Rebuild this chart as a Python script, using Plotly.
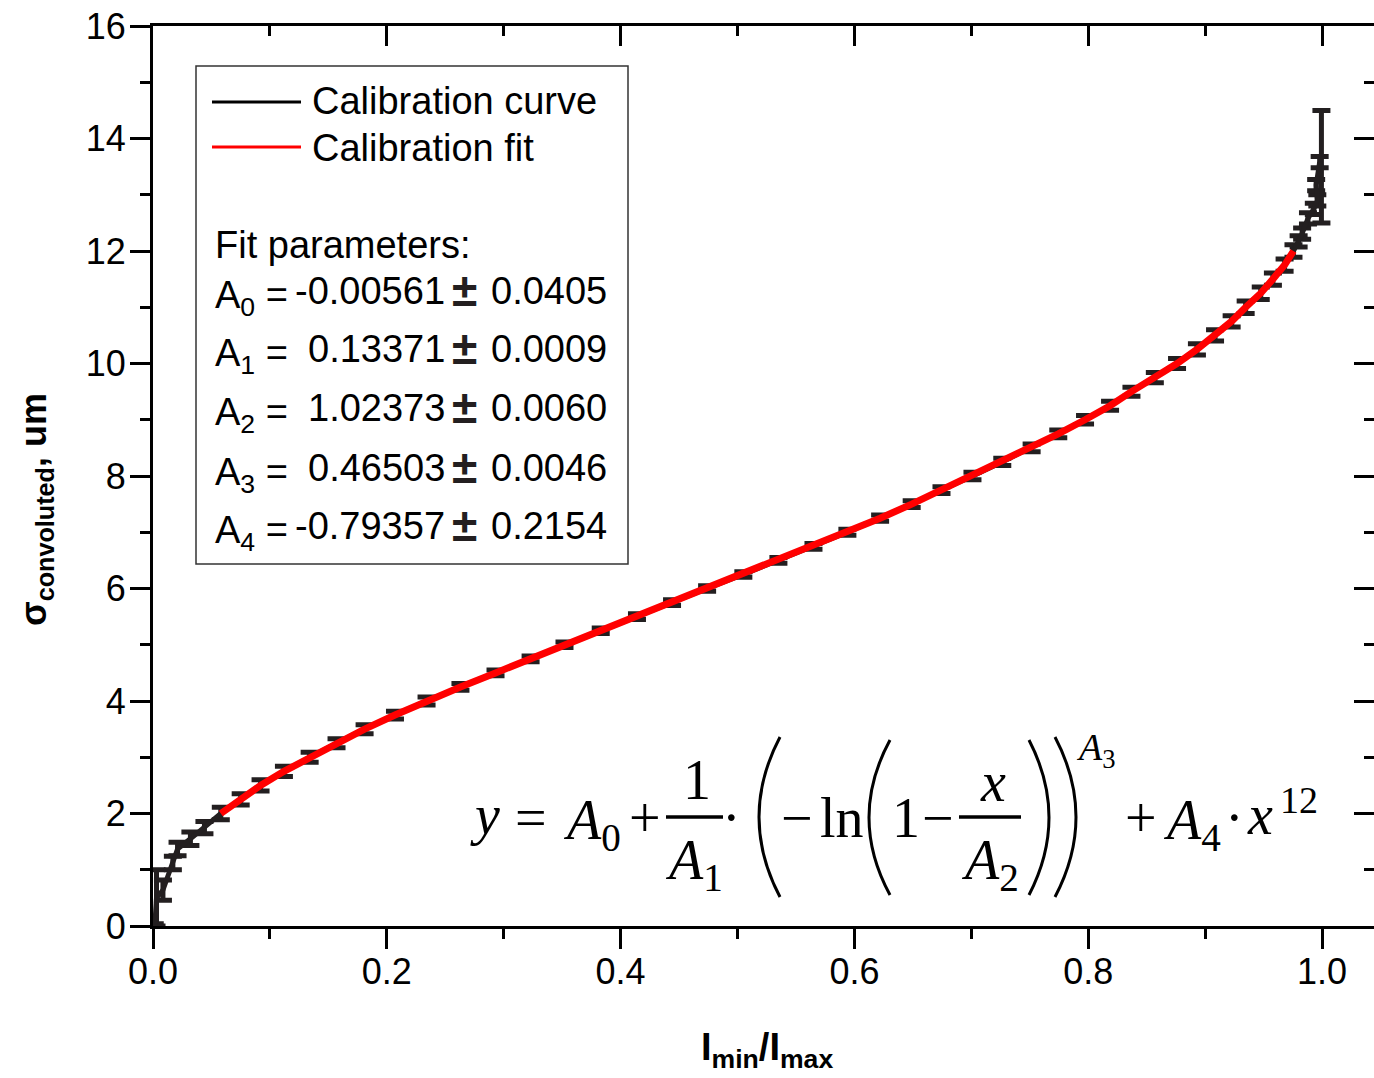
import plotly.graph_objects as go

# ---------------- data ----------------
curve_x = [0.0015, 0.003, 0.0085, 0.017, 0.021, 0.032, 0.044, 0.058,
           0.075, 0.092, 0.112, 0.134, 0.157, 0.181, 0.207, 0.234,
           0.263, 0.293, 0.323, 0.352, 0.383, 0.414, 0.444, 0.474,
           0.505, 0.535, 0.565, 0.594, 0.622, 0.649, 0.6745, 0.701,
           0.7265, 0.7516, 0.7744, 0.7973, 0.8187, 0.837, 0.857, 0.876,
           0.893, 0.9085, 0.9227, 0.9347, 0.9476, 0.958, 0.968, 0.9756,
           0.980, 0.983, 0.988, 0.993, 0.996, 0.995, 0.998, 0.9995]
curve_y = [0.0, 0.5, 0.64, 1.12, 1.37, 1.55, 1.75, 2.0,
           2.25, 2.5, 2.75, 3.0, 3.25, 3.5, 3.75, 4.0,
           4.25, 4.5, 4.75, 5.0, 5.25, 5.5, 5.75, 6.0,
           6.25, 6.5, 6.75, 7.0, 7.25, 7.5, 7.75, 8.0,
           8.25, 8.5, 8.75, 9.0, 9.25, 9.5, 9.75, 10.0,
           10.25, 10.5, 10.75, 11.0, 11.25, 11.5, 11.75, 12.0,
           12.17, 12.31, 12.58, 12.75, 12.9, 13.17, 13.58, 13.5]
curve_err = [0.04, 0.5, 0.18, 0.12, 0.12, 0.12, 0.11, 0.11,
             0.1, 0.1, 0.09, 0.09, 0.08, 0.08, 0.07, 0.07,
             0.06, 0.05, 0.05, 0.05, 0.05, 0.05, 0.05, 0.05,
             0.05, 0.05, 0.05, 0.055, 0.055, 0.06, 0.06, 0.065,
             0.065, 0.07, 0.07, 0.075, 0.08, 0.08, 0.09, 0.09,
             0.1, 0.1, 0.1, 0.11, 0.11, 0.11, 0.11, 0.11,
             0.1, 0.1, 0.1, 0.1, 0.1, 0.1, 0.1, 1.0]

fit_x = [0.058, 0.075, 0.092, 0.112, 0.134, 0.157, 0.181, 0.207, 0.234,
         0.263, 0.293, 0.323, 0.352, 0.383, 0.414, 0.444, 0.474,
         0.505, 0.535, 0.565, 0.594, 0.622, 0.649, 0.6745, 0.701,
         0.7265, 0.7516, 0.7744, 0.7973, 0.8187, 0.837, 0.857, 0.876,
         0.893, 0.9085, 0.9227, 0.9347, 0.9476, 0.958, 0.968, 0.9756]
fit_y = [2.0, 2.25, 2.5, 2.75, 3.0, 3.25, 3.5, 3.75, 4.0,
         4.25, 4.5, 4.75, 5.0, 5.25, 5.5, 5.75, 6.0,
         6.25, 6.5, 6.75, 7.0, 7.25, 7.5, 7.75, 8.0,
         8.25, 8.5, 8.75, 9.0, 9.25, 9.5, 9.75, 10.0,
         10.25, 10.5, 10.75, 11.0, 11.25, 11.5, 11.75, 12.0]

param_names = ["A<sub>0</sub> =", "A<sub>1</sub> =", "A<sub>2</sub> =", "A<sub>3</sub> =", "A<sub>4</sub> ="]
param_values = ["-0.00561", "0.13371", "1.02373", "0.46503", "-0.79357"]
param_errors = ["0.0405", "0.0009", "0.0060", "0.0046", "0.2154"]

x_tickvals = [0.0, 0.2, 0.4, 0.6, 0.8, 1.0]
x_ticktext = ["0.0", "0.2", "0.4", "0.6", "0.8", "1.0"]
y_tickvals = [0, 2, 4, 6, 8, 10, 12, 14, 16]
y_ticktext = ["0", "2", "4", "6", "8", "10", "12", "14", "16"]

# ---------------- layout helpers (pixel -> paper) ----------------
W, H = 1374, 1078
L, R, T, B = 153, 0, 26, 152
PW, PH = W - L - R, H - T - B


def px(x):
    return (x - L) / PW


def py(y):
    return (H - B - y) / PH


SANS = "Liberation Sans, Arial, sans-serif"
SERIF = "Liberation Serif, Times New Roman, serif"
BLACK = "#231f20"

fig = go.Figure()

fig.add_trace(go.Scatter(
    x=curve_x, y=curve_y, mode="lines", name="Calibration curve",
    line=dict(color=BLACK, width=5),
    error_y=dict(type="data", array=curve_err, visible=True,
                 color=BLACK, thickness=5, width=9),
    showlegend=False, cliponaxis=False,
))
fig.add_trace(go.Scatter(
    x=fit_x, y=fit_y, mode="lines", name="Calibration fit",
    line=dict(color="#ff0000", width=7), xaxis="x2", yaxis="y2",
    showlegend=False,
))

xrange = [0, PW / 1169.0]
yrange = [0, 16]

axis_common = dict(showgrid=False, zeroline=False, linecolor="black",
                   linewidth=3, tickcolor="black", tickwidth=3,
                   tickfont=dict(family=SANS, size=36, color="black"))

fig.update_layout(
    width=W, height=H,
    margin=dict(l=L, r=R, t=T, b=B, pad=0),
    paper_bgcolor="white", plot_bgcolor="white",
    font=dict(family=SANS, color="black"),
    xaxis=dict(range=xrange, tickvals=x_tickvals, ticktext=x_ticktext,
               ticks="outside", ticklen=20, showline=True,
               ticklabelstandoff=-8,
               minor=dict(dtick=0.1, ticks="outside", ticklen=10,
                          tickwidth=3, tickcolor="black"),
               **axis_common),
    yaxis=dict(range=yrange, tickvals=y_tickvals, ticktext=y_ticktext,
               ticks="outside", ticklen=20, showline=True,
               ticklabelstandoff=-3,
               minor=dict(dtick=1, ticks="outside", ticklen=10,
                          tickwidth=3, tickcolor="black"),
               **axis_common),
    xaxis2=dict(range=xrange, overlaying="x", side="top", anchor="y2",
                tickvals=x_tickvals, ticks="inside", ticklen=20,
                showticklabels=False, showline=True,
                minor=dict(dtick=0.1, ticks="inside", ticklen=10,
                           tickwidth=3, tickcolor="black"),
                **axis_common),
    yaxis2=dict(range=yrange, overlaying="y", side="right", anchor="x2",
                tickvals=y_tickvals, ticks="inside", ticklen=20,
                showticklabels=False, showline=False,
                minor=dict(dtick=1, ticks="inside", ticklen=10,
                           tickwidth=3, tickcolor="black"),
                **axis_common),
)

shapes = []
ann = []

# axis titles
ann.append(dict(x=px(767), y=py(1050), xref="paper", yref="paper",
                text="<b>I<sub>min</sub>/I<sub>max</sub></b>", showarrow=False,
                font=dict(family=SANS, size=38, color="black"),
                xanchor="center", yanchor="middle"))
ann.append(dict(x=px(36), y=py(510), xref="paper", yref="paper",
                text="<b>σ<sub>convoluted</sub>, um</b>", showarrow=False,
                textangle=-90,
                font=dict(family=SANS, size=36, color="black"),
                xanchor="center", yanchor="middle"))

# legend / parameter box
shapes.append(dict(type="rect", xref="paper", yref="paper",
                   x0=px(196), x1=px(628), y0=py(564), y1=py(66),
                   line=dict(color="#333333", width=1.5), fillcolor="white",
                   layer="above"))
shapes.append(dict(type="line", xref="paper", yref="paper",
                   x0=px(212), x1=px(301), y0=py(102), y1=py(102),
                   line=dict(color="black", width=3), layer="above"))
shapes.append(dict(type="line", xref="paper", yref="paper",
                   x0=px(212), x1=px(301), y0=py(147), y1=py(147),
                   line=dict(color="#ff0000", width=3), layer="above"))

box_font = dict(family=SANS, size=38, color="black")
ann.append(dict(x=px(310), y=py(101), xref="paper", yref="paper",
                text="Calibration curve", showarrow=False, font=box_font,
                xanchor="left", yanchor="middle"))
ann.append(dict(x=px(310), y=py(148), xref="paper", yref="paper",
                text="Calibration fit", showarrow=False, font=box_font,
                xanchor="left", yanchor="middle"))
ann.append(dict(x=px(213), y=py(245), xref="paper", yref="paper",
                text="Fit parameters:", showarrow=False, font=box_font,
                xanchor="left", yanchor="middle"))

row_y = [291, 349, 408, 468, 526]
for i in range(5):
    ann.append(dict(x=px(213), y=py(row_y[i] + 7), xref="paper", yref="paper",
                    text=param_names[i], showarrow=False, font=box_font,
                    xanchor="left", yanchor="middle"))
    ann.append(dict(x=px(447), y=py(row_y[i]), xref="paper", yref="paper",
                    text=param_values[i], showarrow=False, font=box_font,
                    xanchor="right", yanchor="middle"))
    ann.append(dict(x=px(464), y=py(row_y[i] - 1), xref="paper", yref="paper",
                    text="<b>±</b>", showarrow=False,
                    font=dict(family=SANS, size=46, color=BLACK),
                    xanchor="center", yanchor="middle"))
    ann.append(dict(x=px(489), y=py(row_y[i]), xref="paper", yref="paper",
                    text=param_errors[i], showarrow=False, font=box_font,
                    xanchor="left", yanchor="middle"))

# formula
FS = 56


def ftext(x, y, text, size=FS):
    ann.append(dict(x=px(x), y=py(y), xref="paper", yref="paper", text=text,
                    showarrow=False, xanchor="center", yanchor="middle",
                    font=dict(family=SERIF, size=size, color="black")))


ftext(485, 815, "<i>y</i>")
ftext(531, 818, "=")
ftext(592, 824, "<i>A</i><sub>0</sub>")
ftext(645, 818, "+")
ftext(697, 780, "1")
ftext(694, 864, "<i>A</i><sub>1</sub>")
ftext(731, 818, "·")
ftext(797, 818, "−")
ftext(842, 818, "ln")
ftext(906, 818, "1")
ftext(938, 818, "−")
ftext(993, 782, "<i>x</i>")
ftext(990, 864, "<i>A</i><sub>2</sub>")
ftext(1096, 750, "<i>A</i><sub>3</sub>", 38)
ftext(1141, 818, "+")
ftext(1192, 824, "<i>A</i><sub>4</sub>")
ftext(1234, 818, "·")
ftext(1260, 815, "<i>x</i>")
ftext(1299, 800, "12", 38)

for (x0, x1) in [(666, 723), (959, 1021)]:
    shapes.append(dict(type="line", xref="paper", yref="paper",
                       x0=px(x0), x1=px(x1), y0=py(817), y1=py(817),
                       line=dict(color="black", width=3.5)))


def paren(xe, xc, ytop, ybot):
    ym = (ytop + ybot) / 2
    path = "M {},{} Q {},{} {},{}".format(px(xe), py(ytop), px(xc), py(ym),
                                           px(xe), py(ybot))
    shapes.append(dict(type="path", xref="paper", yref="paper", path=path,
                       line=dict(color="black", width=3)))


paren(780, 738, 737, 897)
paren(890, 848, 740, 895)
paren(1029, 1069, 740, 895)
paren(1055, 1097, 737, 897)

fig.update_layout(shapes=shapes, annotations=ann)

fig.write_html("out.html")
